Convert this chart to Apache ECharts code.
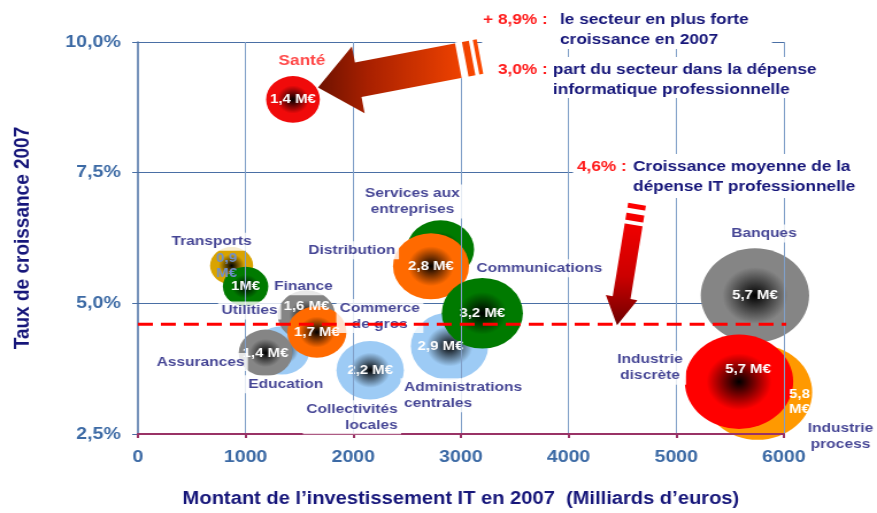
<!DOCTYPE html>
<html>
<head>
<meta charset="utf-8">
<script src="https://cdn.jsdelivr.net/npm/echarts/dist/echarts.min.js"></script>
<style>
html, body { margin: 0; padding: 0; background: #fff; overflow: hidden; }
#main { width: 763px; height: 513px; transform-origin: 0 0; transform: scaleX(1.1494); }
</style>
</head>
<body>
<div id="main"></div>
<script>
// data
var sectors = ['Transports', 'Utilities', 'Education', 'Finance', 'Assurances', 'Commerce de gros',
  'Collectivités locales', 'Services aux entreprises', 'Distribution', 'Administrations centrales',
  'Communications', 'Banques', 'Industrie process', 'Industrie discrète', 'Santé'];
var invest = [870, 1000, 1335, 1565, 1185, 1662, 2157, 2810, 2722, 2894, 3199, 5731, 5755, 5583, 1440];
var growth = [5.72, 5.32, 4.10, 4.77, 4.05, 4.45, 3.72, 6.03, 5.71, 4.18, 4.81, 5.15, 3.30, 3.50, 8.9];
var spend = [0.9, 1.0, 1.5, 1.6, 1.4, 1.7, 2.2, 2.2, 2.8, 2.9, 3.2, 5.7, 5.8, 5.7, 1.4];
var spendText = ['0,9 M€', '1M€', '', '1,6 M€', '1,4 M€', '1,7 M€', '2,2 M€', '', '2,8 M€', '2,9 M€',
  '3,2 M€', '5,7 M€', '5,8 M€', '5,7 M€', '1,4 M€'];
var avgGrowth = 4.6;
var avgArrowX = 4450;
var xMin = 0, xMax = 6000, xStep = 1000;
var yMin = 2.5, yMax = 10, yStep = 2.5;
var notes = [
  { key: '+ 8,9% :', text: ['le secteur en plus forte', 'croissance en 2007'] },
  { key: '3,0% :', text: ['part du secteur dans la dépense', 'informatique professionnelle'] },
  { key: '4,6% :', text: ['Croissance moyenne de la', 'dépense IT professionnelle'] }
];

// the original picture is stretched horizontally, so the page is too
var SX = 877 / 763;
var FONT = '"Liberation Sans", Arial, sans-serif';
var NAVY = '#16167a';
var RED = '#ff1a1a';

var palette = {
  'Transports': '#d9a300', 'Utilities': '#007a00', 'Education': '#9dcbf5', 'Finance': '#858585',
  'Assurances': '#858585', 'Commerce de gros': '#ff6a00', 'Collectivités locales': '#9dcbf5',
  'Services aux entreprises': '#007a00', 'Distribution': '#ff6a00', 'Administrations centrales': '#9dcbf5',
  'Communications': '#007a00', 'Banques': '#858585', 'Industrie process': '#ff9900',
  'Industrie discrète': '#ff0000', 'Santé': '#f00a0a'
};

// label offsets measured on the picture (x in picture pixels)
var nameLayout = {
  'Transports': { dx: -20, dy: -24 },
  'Utilities': { dx: 4, dy: 24 },
  'Education': { dx: 4, dy: 34 },
  'Finance': { dx: -3, dy: -29 },
  'Assurances': { dx: -65, dy: 9 },
  'Commerce de gros': { dx: 63, dy: -16, wrap: 1 },
  'Collectivités locales': { dx: 28, dy: 47, wrap: 1, align: 'right' },
  'Services aux entreprises': { dx: -28, dy: -48, wrap: 2 },
  'Distribution': { dx: -79, dy: -16 },
  'Administrations centrales': { dx: -46, dy: 49, wrap: 1, align: 'left' },
  'Communications': { dx: 57, dy: -45 },
  'Banques': { dx: 9, dy: -62 },
  'Industrie process': { dx: 83, dy: 44, wrap: 1 },
  'Industrie discrète': { dx: -89, dy: -14, wrap: 1 },
  'Santé': { dx: 9, dy: -39, color: RED, size: 15 }
};
var valueLayout = {
  'Transports': { dx: -5, dy: 0, wrap: true, color: '#6f8fcc' },
  'Finance': { dx: 0, dy: -9 },
  'Administrations centrales': { dx: -9, dy: 0 },
  'Industrie discrète': { dx: 9, dy: -12 },
  'Industrie process': { dx: 42, dy: 10, wrap: true }
};

function wrapAt(s, k) {
  var parts = s.split(' ');
  return parts.slice(0, k).join(' ') + '\n' + parts.slice(k).join(' ');
}

function bubbleFill(c) {
  return {
    type: 'radial', x: 0.5, y: 0.5, r: 0.5,
    colorStops: [{ offset: 0, color: '#000' }, { offset: 0.6, color: c }, { offset: 1, color: c }]
  };
}

var bubbleData = sectors.map(function (n, i) {
  var v = valueLayout[n] || { dx: 0, dy: 0 };
  var t = spendText[i];
  if (v.wrap) t = t.replace(' ', '\n');
  return {
    name: n,
    value: [invest[i], growth[i], spend[i]],
    itemStyle: { color: bubbleFill(palette[n]), opacity: 1 },
    label: { show: t !== '', formatter: t, offset: [v.dx / SX, v.dy], color: v.color || '#fff' }
  };
});

var nameData = sectors.map(function (n, i) {
  var l = nameLayout[n];
  var pad = l.align === 'right' ? 3 : (l.align === 'left' ? -3 : 0);
  return {
    name: n,
    value: [invest[i], growth[i]],
    label: {
      formatter: l.wrap ? wrapAt(n, l.wrap) : n,
      offset: [(l.dx + pad) / SX, l.dy],
      align: l.align || 'center',
      color: l.color || NAVY,
      fontSize: l.size || 13.5
    }
  };
});

var chart = echarts.init(document.getElementById('main'));
var option = {
  animation: false,
  backgroundColor: '#fff',
  grid: { left: 120, right: 81, top: 42, bottom: 77 },
  xAxis: {
    type: 'value', min: xMin, max: xMax, interval: xStep, z: 3,
    name: 'Montant de l’investissement IT en 2007  (Milliards d’euros)',
    nameLocation: 'middle', nameGap: 56,
    nameTextStyle: { color: NAVY, fontSize: 17.5, fontWeight: 'bold', fontFamily: FONT },
    axisLine: { show: true, onZero: false, lineStyle: { color: '#993366', width: 2 } },
    axisTick: { show: true, length: 4, lineStyle: { color: '#993366', width: 2 } },
    axisLabel: {
      color: '#3c6aa5', fontSize: 17, fontWeight: 'bold', fontFamily: FONT, margin: 15,
      formatter: function (v) { return String(v); }
    },
    splitLine: { show: true, showMinLine: false, lineStyle: { color: '#809fc8', width: 1 } }
  },
  yAxis: {
    type: 'value', min: yMin, max: yMax, interval: yStep, z: 2,
    name: 'Taux de croissance 2007',
    nameLocation: 'middle', nameGap: 91,
    nameTextStyle: { color: NAVY, fontSize: 19, fontWeight: 'bold', fontFamily: FONT },
    axisLine: { show: true, lineStyle: { color: '#4a6fa5', width: 1.5 } },
    axisTick: { show: true, length: 5, lineStyle: { color: '#4a6fa5' } },
    axisLabel: {
      color: '#3c6aa5', fontSize: 17, fontWeight: 'bold', fontFamily: FONT, margin: 15,
      formatter: function (v) { return v.toFixed(1).replace('.', ',') + '%'; }
    },
    splitLine: { show: true, showMinLine: false, lineStyle: { color: '#4a6fa5', width: 1 } }
  },
  series: [
    {
      type: 'scatter', z: 2, silent: true,
      data: bubbleData,
      symbolSize: function (val) { return 39.5 * Math.sqrt(val[2]); },
      itemStyle: { opacity: 1 },
      label: { show: true, position: 'inside', fontSize: 13, fontWeight: 'bold', fontFamily: FONT, lineHeight: 15 },
      emphasis: { disabled: true }
    },
    {
      type: 'scatter', z: 3, silent: true,
      data: nameData,
      symbolSize: 1,
      itemStyle: { color: 'rgba(0,0,0,0)' },
      label: {
        show: true, position: 'inside', fontWeight: 'bold', fontFamily: FONT, lineHeight: 16,
        backgroundColor: '#fff', padding: [1, 3]
      },
      emphasis: { disabled: true }
    },
    {
      type: 'line', z: 8, silent: true, clip: false, symbol: 'none',
      data: [[xMin, avgGrowth], [xMax * 1.04, avgGrowth]],
      lineStyle: { color: '#ff0000', width: 3, type: [13, 7] }
    }
  ]
};
chart.setOption(option);

// arrows and notes (decoration), built in picture pixels then unstretched
function arrow(tip, tail, headLen, headHalf, shaftHalf, stripes, fill) {
  var dx = tail[0] - tip[0], dy = tail[1] - tip[1];
  var L = Math.sqrt(dx * dx + dy * dy);
  var ux = dx / L, uy = dy / L, nx = -uy, ny = ux;
  function P(a, b) { return [(tip[0] + ux * a + nx * b) / SX, tip[1] + uy * a + ny * b]; }
  var els = [{
    type: 'polygon', z: 15, silent: true,
    shape: { points: [P(0, 0), P(headLen, headHalf), P(headLen, shaftHalf), P(L, shaftHalf),
      P(L, -shaftHalf), P(headLen, -shaftHalf), P(headLen, -headHalf)] },
    style: { fill: fill }
  }];
  stripes.forEach(function (s) {
    els.push({
      type: 'polygon', z: 16, silent: true,
      shape: { points: [P(L - s[1], shaftHalf + 1), P(L - s[0], shaftHalf + 1),
        P(L - s[0], -shaftHalf - 1), P(L - s[1], -shaftHalf - 1)] },
      style: { fill: '#fff' }
    });
  });
  return els;
}

var iS = sectors.indexOf('Santé');
var ps = chart.convertToPixel({ seriesIndex: 0 }, [invest[iS], growth[iS]]);
var tip1 = [ps[0] * SX + 25, ps[1] - 12];
var pa = chart.convertToPixel({ seriesIndex: 0 }, [avgArrowX, avgGrowth]);
var tip2 = [pa[0] * SX, pa[1] + 1];

var graphics = [];
graphics = graphics.concat(arrow(tip1, [tip1[0] + 162, tip1[1] - 31], 41, 34, 17.5, [[4, 8], [15, 22]], {
  type: 'linear', x: 0, y: 0, x2: 1, y2: 0,
  colorStops: [{ offset: 0, color: '#6e1200' }, { offset: 0.3, color: '#a82000' }, { offset: 1, color: '#ff4a00' }]
}));
graphics = graphics.concat(arrow(tip2, [tip2[0] + 20, tip2[1] - 121], 28, 16, 9, [[5, 10], [17, 21]], {
  type: 'linear', x: 0, y: 0, x2: 0, y2: 1,
  colorStops: [{ offset: 0, color: '#ff0000' }, { offset: 0.6, color: '#cc0000' }, { offset: 1, color: '#6e0000' }]
}));

var noteBoxes = [
  { x: 482, y: 4, w: 290, h: 45, keyX: 483, textX: 560, cy: 20 },
  { x: 495, y: 57, w: 327, h: 41, keyX: 498, textX: 553, cy: 70 },
  { x: 573, y: 154, w: 290, h: 44, keyX: 577, textX: 633, cy: 167 }
];
noteBoxes.forEach(function (b, k) {
  graphics.push({ type: 'rect', z: 10, silent: true,
    shape: { x: b.x / SX, y: b.y, width: b.w / SX, height: b.h }, style: { fill: '#fff' } });
  graphics.push({ type: 'text', z: 11, silent: true, x: b.keyX / SX, y: b.cy,
    style: { text: notes[k].key, fill: RED, fontSize: 15, fontWeight: 'bold', fontFamily: FONT, verticalAlign: 'middle' } });
  notes[k].text.forEach(function (t, i) {
    graphics.push({ type: 'text', z: 11, silent: true, x: b.textX / SX, y: b.cy + i * 19.5,
      style: { text: t, fill: NAVY, fontSize: 15, fontWeight: 'bold', fontFamily: FONT, verticalAlign: 'middle' } });
  });
});

chart.setOption({ graphic: { elements: graphics } });
</script>
</body>
</html>
